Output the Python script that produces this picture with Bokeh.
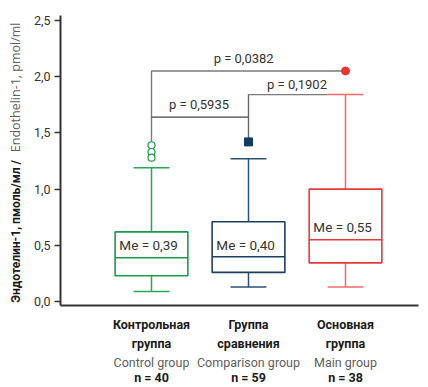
import numpy as np
from bokeh.plotting import figure
from bokeh.layouts import row
from bokeh.models import Range1d, LinearAxis, FixedTicker, CustomJSTickFormatter
from bokeh.core.properties import value
from bokeh.embed import file_html
from bokeh.resources import INLINE

# ---- data ----
groups_ru = ["Контрольная\nгруппа", "Группа\nсравнения", "Основная\nгруппа"]
groups_en = ["Control group", "Comparison group", "Main group"]
n_labels = ["n = 40", "n = 59", "n = 38"]
whisker_low = [0.09, 0.13, 0.13]
q1 = [0.23, 0.26, 0.345]
median = [0.39, 0.40, 0.55]
q3 = [0.62, 0.71, 1.00]
whisker_high = [1.19, 1.27, 1.84]
me_labels = ["Me = 0,39", "Me = 0,40", "Me = 0,55"]
me_label_y = [0.50, 0.50, 0.665]
outliers_control = [1.39, 1.33, 1.28]
outliers_comparison = [1.42]
outliers_main = [2.05]
p_pairs = [(0, 2), (0, 1), (1, 2)]
p_texts = ["p = 0,0382", "p = 0,5935", "p = 0,1902"]
p_levels = [2.05, 1.64, 1.84]
y_ticks = [0.0, 0.5, 1.0, 1.5, 2.0, 2.5]
y_label_ru = "Эндотелин-1, пмоль/мл /"
y_label_en = "Endothelin-1, pmol/ml"

box_colors = ["#1a9a4c", "#1d3f5e", "#e8393c"]
whisk_colors = ["#2aa65a", "#2f5070", "#f06a6a"]

FONT = "Roboto"
pos = np.arange(1, len(median) + 1, dtype=float)

TOP, BOTTOM = 15, 74
LABW = 24
y_range = Range1d(-0.034, 2.543)

p = figure(width=428 - LABW, height=387,
           x_range=Range1d(1 - 91 / 97, 1 - 91 / 97 + 358 / 97),
           y_range=y_range,
           output_backend="svg", toolbar_location=None,
           min_border_left=60 - LABW, min_border_right=10,
           min_border_top=TOP, min_border_bottom=BOTTOM)
p.outline_line_color = None
p.xgrid.visible = False
p.ygrid.visible = False

p.yaxis.ticker = FixedTicker(ticks=y_ticks)
p.yaxis.formatter = CustomJSTickFormatter(code="return tick.toFixed(1).replace('.', ',');")
p.yaxis.minor_tick_line_color = None
p.yaxis.major_tick_out = 6
p.yaxis.major_tick_in = 0
p.yaxis.major_tick_line_color = "#333333"
p.yaxis.major_tick_line_width = 1.5
p.yaxis.axis_line_color = "#333333"
p.yaxis.axis_line_width = 2
p.yaxis.major_label_text_font = FONT
p.yaxis.major_label_text_font_size = "12.5px"
p.yaxis.major_label_text_color = "#333333"
p.yaxis.major_label_standoff = 4

# x axis: category labels in three styled rows (three stacked axes)
def style_cat_axis(ax, labels, color, style, standoff):
    ax.ticker = FixedTicker(ticks=list(pos))
    ax.formatter = CustomJSTickFormatter(args=dict(labels=labels),
                                         code="return labels[Math.round(tick) - 1];")
    ax.minor_tick_line_color = None
    ax.major_tick_line_color = None
    ax.major_tick_out = 0
    ax.major_tick_in = 0
    ax.major_label_text_font = FONT
    ax.major_label_text_font_size = "12.5px"
    ax.major_label_text_font_style = style
    ax.major_label_text_color = color
    ax.major_label_text_line_height = 1.3
    ax.major_label_standoff = standoff

xa = p.xaxis[0]
style_cat_axis(xa, groups_ru, "#1a1a1a", "bold", 11)
xa.axis_line_color = "#333333"
xa.axis_line_width = 2

ax2 = LinearAxis()
style_cat_axis(ax2, groups_en, "#5e5e5e", "normal", 0)
ax2.axis_line_color = None
p.add_layout(ax2, "below")

ax3 = LinearAxis()
style_cat_axis(ax3, n_labels, "#1a1a1a", "bold", -3)
ax3.axis_line_color = None
p.add_layout(ax3, "below")

# whiskers
p.segment(x0=pos, x1=pos, y0=q3, y1=whisker_high, line_color=whisk_colors, line_width=1.5)
p.segment(x0=pos, x1=pos, y0=q1, y1=whisker_low, line_color=whisk_colors, line_width=1.5)
p.segment(x0=pos - 0.185, x1=pos + 0.185, y0=whisker_high, y1=whisker_high, line_color=whisk_colors, line_width=1.5)
p.segment(x0=pos - 0.185, x1=pos + 0.185, y0=whisker_low, y1=whisker_low, line_color=whisk_colors, line_width=1.5)

# boxes
p.vbar(x=pos, width=0.75, top=q3, bottom=q1, fill_color="white", line_color=box_colors, line_width=1.6)
p.segment(x0=pos - 0.375, x1=pos + 0.375, y0=median, y1=median, line_color=box_colors, line_width=1.5)

# brackets
i, j = p_pairs[0]
p.line([pos[i], pos[i], pos[j]], [max(outliers_control) + 0.025, p_levels[0], p_levels[0]],
       line_color="#7a7a7a", line_width=1.4)
i, j = p_pairs[1]
p.line([pos[i], pos[j]], [p_levels[1], p_levels[1]], line_color="#444444", line_width=1.4)
p.line([pos[j], pos[j]], [outliers_comparison[0], p_levels[2]], line_color="#666666", line_width=1.4)
i, j = p_pairs[2]
p.line([pos[i], pos[j] - 0.185], [p_levels[2], p_levels[2]], line_color="#7a7a7a", line_width=1.4)

# outliers
p.scatter(x=[pos[0]] * len(outliers_control), y=outliers_control, size=7, marker="circle",
          fill_color="white", line_color="#1a9a4c", line_width=1.2)
p.scatter(x=[pos[1]] * len(outliers_comparison), y=outliers_comparison, size=8, marker="square",
          fill_color="#123d63", line_color="#123d63")
p.scatter(x=[pos[2]] * len(outliers_main), y=outliers_main, size=8, marker="circle",
          fill_color="#ee3333", line_color="#ee3333")

# texts in plot
p.text(x=pos - 0.03, y=me_label_y, text=me_labels, text_font=value(FONT), text_font_size="13.5px",
       text_color="#333333", text_align="center", text_baseline="middle")
p_text_x = [(pos[0] + pos[2]) / 2 - 0.05, (pos[0] + pos[1]) / 2 - 0.01, (pos[1] + pos[2]) / 2 + 0.0]
p_text_y = [p_levels[0] + 0.04, p_levels[1] + 0.045, p_levels[2] + 0.025]
p.text(x=p_text_x, y=p_text_y, text=p_texts, text_font=value(FONT), text_font_size="13px",
       text_color="#333333", text_align="center", text_baseline="bottom")

# y-axis title panel (two styles on one line)
lab = figure(width=LABW, height=387, x_range=Range1d(0, LABW), y_range=y_range,
             output_backend="svg", toolbar_location=None,
             x_axis_location=None, y_axis_location=None,
             min_border_left=0, min_border_right=0,
             min_border_top=TOP, min_border_bottom=BOTTOM)
lab.outline_line_color = None
lab.xgrid.visible = False
lab.ygrid.visible = False
lab.text(x=[15], y=[-0.01], text=[y_label_ru], angle=np.pi / 2,
         text_font=value(FONT), text_font_size="12px", text_font_style="bold",
         text_color="#1a1a1a", text_align="left", text_baseline="middle")
lab.text(x=[15], y=[1.328], text=[y_label_en], angle=np.pi / 2,
         text_font=value("Open Sans"), text_font_size="12.5px", text_font_style="normal",
         text_color="#5e5e5e", text_align="left", text_baseline="middle")

layout = row(lab, p, spacing=0)
open("out.html", "w").write(file_html(layout, INLINE))
